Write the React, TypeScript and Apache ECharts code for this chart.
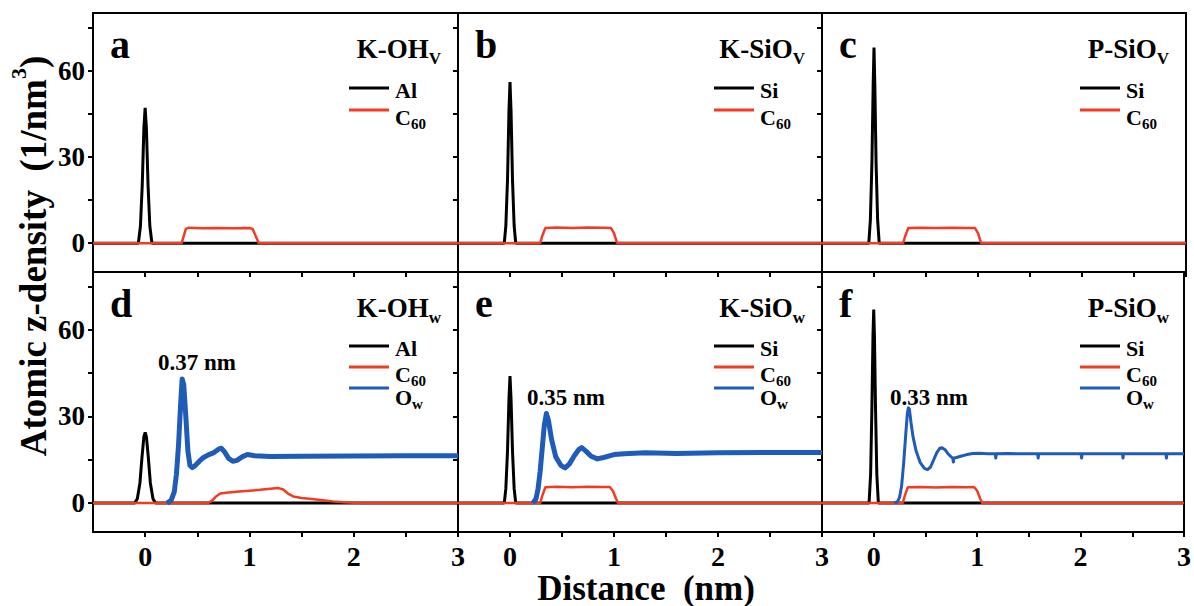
import React, { useEffect, useRef } from 'react';
import * as echarts from 'echarts';

// ---------- axis ticks / labels ----------
const xTickValues = [0, 0.5, 1, 1.5, 2, 2.5, 3];
const xLabelValues = [0, 1, 2, 3];
const yTickValues = [0, 15, 30, 45, 60, 75];
const yLabelValues = [0, 30, 60];

// ---------- panel texts ----------
const panelLetters = ['a', 'b', 'c', 'd', 'e', 'f'];
const panelTitleMain = ['K-OH', 'K-SiO', 'P-SiO', 'K-OH', 'K-SiO', 'P-SiO'];
const panelTitleSub = ['V', 'V', 'V', 'w', 'w', 'w'];
const surfaceNames = ['Al', 'Si', 'Si', 'Al', 'Si', 'Si'];
const peakLabels = ['0.37 nm', '0.35 nm', '0.33 nm'];

// ---------- data: [distance nm, density 1/nm^3] ----------
const aAl = [[-0.5, 0], [-0.065, 0], [-0.045, 6], [-0.028, 20], [-0.012, 40], [0, 47], [0.012, 40], [0.028, 20], [0.045, 6], [0.065, 0], [3, 0]];
const aC60 = [[-0.5, 0], [0.35, 0], [0.37, 2.5], [0.39, 5], [0.42, 5.4], [0.55, 5.2], [0.7, 5.3], [0.85, 5.2], [1.0, 5.3], [1.03, 5.0], [1.06, 2.5], [1.09, 0], [3, 0]];

const bSi = [[-0.5, 0], [-0.055, 0], [-0.04, 6], [-0.024, 22], [-0.01, 46], [0, 56], [0.01, 46], [0.024, 22], [0.04, 6], [0.055, 0], [3, 0]];
const bC60 = [[-0.5, 0], [0.29, 0], [0.31, 2.5], [0.34, 5.3], [0.45, 5.5], [0.6, 5.3], [0.75, 5.5], [0.9, 5.4], [0.97, 5.3], [1.0, 3.5], [1.03, 0], [3, 0]];

const cSi = [[-0.5, 0], [-0.05, 0], [-0.035, 8], [-0.02, 28], [-0.008, 55], [0, 68], [0.008, 55], [0.02, 28], [0.035, 8], [0.05, 0], [3, 0]];
const cC60 = [[-0.5, 0], [0.28, 0], [0.3, 2.5], [0.33, 5.3], [0.45, 5.4], [0.6, 5.3], [0.75, 5.4], [0.9, 5.3], [0.97, 5.3], [1.0, 3.5], [1.03, 0], [3, 0]];

const dAl = [[-0.5, 0], [-0.1, 0], [-0.075, 1.5], [-0.05, 7], [-0.03, 16], [-0.012, 23], [0, 24.5], [0.012, 23], [0.03, 16], [0.05, 7], [0.075, 1.5], [0.1, 0], [3, 0]];
const dC60 = [[-0.5, 0], [0.6, 0], [0.64, 0.8], [0.68, 2.3], [0.72, 3.3], [0.8, 3.7], [0.9, 4.0], [1.0, 4.3], [1.1, 4.6], [1.2, 5.0], [1.28, 5.2], [1.32, 4.8], [1.37, 3.3], [1.42, 2.3], [1.5, 1.8], [1.6, 1.4], [1.7, 1.0], [1.8, 0.6], [1.9, 0.3], [2.0, 0.1], [2.08, 0], [3, 0]];
const dOw = [[0.21, 0], [0.25, 1], [0.28, 4], [0.3, 10], [0.32, 20], [0.34, 34], [0.355, 43], [0.37, 41], [0.39, 30], [0.41, 18], [0.43, 13], [0.45, 12.3], [0.48, 13], [0.52, 14.5], [0.56, 15.8], [0.61, 16.8], [0.66, 17.5], [0.71, 18.8], [0.73, 19], [0.76, 17.8], [0.8, 15.5], [0.84, 14.5], [0.88, 14.8], [0.93, 16], [0.98, 16.8], [1.05, 16.4], [1.2, 16.1], [1.5, 16.2], [2.0, 16.3], [2.5, 16.4], [3, 16.4]];

const eSi = [[-0.5, 0], [-0.055, 0], [-0.04, 5], [-0.024, 18], [-0.01, 36], [0, 44], [0.01, 36], [0.024, 18], [0.04, 5], [0.055, 0], [3, 0]];
const eC60 = [[-0.5, 0], [0.29, 0], [0.31, 2.5], [0.34, 5.5], [0.45, 5.7], [0.6, 5.5], [0.75, 5.7], [0.9, 5.6], [0.96, 5.6], [0.99, 4.2], [1.02, 1.5], [1.04, 0], [3, 0]];
const eOw = [[0.22, 0], [0.25, 1.5], [0.27, 5], [0.29, 11], [0.31, 19], [0.33, 27], [0.35, 31], [0.37, 28.5], [0.4, 22], [0.44, 16], [0.49, 13], [0.53, 12.2], [0.57, 13.5], [0.62, 16.5], [0.66, 18.5], [0.69, 19.2], [0.73, 18], [0.78, 16.2], [0.84, 15.3], [0.9, 15.8], [1.0, 16.8], [1.1, 17.1], [1.3, 17.4], [1.6, 17.2], [2.0, 17.4], [2.5, 17.5], [3, 17.5]];

const fSi = [[-0.5, 0], [-0.045, 0], [-0.03, 10], [-0.018, 32], [-0.007, 58], [0, 67], [0.007, 58], [0.018, 32], [0.03, 10], [0.045, 0], [3, 0]];
const fC60 = [[-0.5, 0], [0.28, 0], [0.3, 2.5], [0.33, 5.5], [0.45, 5.6], [0.6, 5.4], [0.75, 5.6], [0.9, 5.5], [0.97, 5.6], [1.0, 4.3], [1.03, 1.5], [1.05, 0], [3, 0]];
const fOw = [[0.2, 0], [0.23, 0.5], [0.25, 2], [0.27, 6], [0.29, 14], [0.31, 24], [0.325, 31], [0.335, 33], [0.345, 32.5], [0.36, 28], [0.38, 23], [0.41, 18], [0.45, 14], [0.49, 12], [0.52, 11.6], [0.55, 12.5], [0.58, 15], [0.61, 17.5], [0.64, 19], [0.66, 19.2], [0.69, 18.5], [0.72, 17], [0.755, 15.8], [0.765, 15.5], [0.77, 14.2], [0.775, 15.6], [0.8, 15.8], [0.85, 16.3], [0.9, 16.8], [0.96, 17.2], [1.02, 17.3], [1.1, 17.1], [1.175, 17.1], [1.18, 15.6], [1.185, 17.1], [1.3, 17.2], [1.4, 17.1], [1.585, 17.1], [1.59, 15.6], [1.595, 17.1], [1.8, 17.1], [2.005, 17.1], [2.01, 15.6], [2.015, 17.1], [2.2, 17.1], [2.405, 17.1], [2.41, 15.6], [2.415, 17.1], [2.6, 17.1], [2.825, 17.1], [2.83, 15.6], [2.835, 17.1], [3, 17.1]];

const surfaceData = [aAl, bSi, cSi, dAl, eSi, fSi];
const c60Data = [aC60, bC60, cC60, dC60, eC60, fC60];
const owData = [null, null, null, dOw, eOw, fOw];

// ---------- style ----------
const SERIF = '"Liberation Serif", "Times New Roman", serif';
const BLACK = '#000000';
const RED = '#f03c22';
const BLUE = '#1f5bb8';

const colLefts = [93, 458, 822];
const colWidths = [365, 364, 364];
const rowTops = [13, 272];
const rowHeights = [259, 260];

export default function App() {
  const ref = useRef<HTMLDivElement>(null);

  useEffect(() => {
    if (!ref.current) return;
    const chart = echarts.init(ref.current, null, { renderer: 'svg' });

    const rects = [0, 1, 2, 3, 4, 5].map((i) => {
      const c = i % 3;
      const r = Math.floor(i / 3);
      return { left: colLefts[c], top: rowTops[r], width: colWidths[c], height: rowHeights[r], c, r };
    });

    const grid = rects.map((g) => ({
      left: g.left, top: g.top, width: g.width, height: g.height,
      show: true, borderColor: BLACK, borderWidth: 2, backgroundColor: 'transparent',
    }));

    const xAxis = rects.map((g, i) => ({
      gridIndex: i, type: 'value', min: -0.5, max: 3, position: 'bottom',
      axisLine: { show: true, onZero: false, lineStyle: { color: BLACK, width: 2 } },
      axisTick: { show: true, inside: false, length: 5, customValues: xTickValues, lineStyle: { color: BLACK, width: 2 } },
      axisLabel: {
        show: g.r === 1, customValues: xLabelValues, margin: 10,
        fontFamily: SERIF, fontWeight: 'bold', fontSize: 28, color: BLACK,
        formatter: (v: number) => String(v),
      },
      splitLine: { show: false },
    }));

    const yAxis = rects.map((g, i) => ({
      gridIndex: i, type: 'value', min: -10, max: 80, position: 'left',
      axisLine: { show: true, onZero: false, lineStyle: { color: BLACK, width: 2 } },
      axisTick: { show: true, inside: false, length: 5, customValues: yTickValues, lineStyle: { color: BLACK, width: 2 } },
      axisLabel: {
        show: g.c === 0, customValues: yLabelValues, margin: 8,
        fontFamily: SERIF, fontWeight: 'bold', fontSize: 27, color: BLACK,
      },
      splitLine: { show: false },
    }));

    const series: any[] = [];
    rects.forEach((g, i) => {
      series.push({
        type: 'line', name: surfaceNames[i], xAxisIndex: i, yAxisIndex: i,
        data: surfaceData[i], symbol: 'none', lineStyle: { color: BLACK, width: 3 }, itemStyle: { color: BLACK },
        silent: true,
      });
      series.push({
        type: 'line', name: 'C60', xAxisIndex: i, yAxisIndex: i,
        data: c60Data[i], symbol: 'none', lineStyle: { color: RED, width: 2.5 }, itemStyle: { color: RED },
        silent: true,
      });
      if (owData[i]) {
        series.push({
          type: 'line', name: 'Ow', xAxisIndex: i, yAxisIndex: i,
          data: owData[i], symbol: 'none',
          lineStyle: { color: BLUE, width: i === 5 ? 3 : 5, join: 'round' }, itemStyle: { color: BLUE },
          silent: true,
        });
      }
    });

    const richBase = {
      m: { fontFamily: SERIF, fontWeight: 'bold', fontSize: 22, lineHeight: 20, verticalAlign: 'top', fill: BLACK, color: BLACK },
      s: { fontFamily: SERIF, fontWeight: 'bold', fontSize: 15, lineHeight: 12, padding: [10, 0, 0, 0], verticalAlign: 'top', fill: BLACK, color: BLACK },
    };
    const richTitle = {
      m: { fontFamily: SERIF, fontWeight: 'bold', fontSize: 27, lineHeight: 27, verticalAlign: 'top', fill: BLACK, color: BLACK },
      s: { fontFamily: SERIF, fontWeight: 'bold', fontSize: 17, lineHeight: 16, padding: [14, 0, 0, 0], verticalAlign: 'top', fill: BLACK, color: BLACK },
    };

    const txt = (x: number, y: number, text: string, opts: any = {}) => ({
      type: 'text', x, y, silent: true,
      style: {
        text, fill: BLACK,
        font: opts.font || `bold 22px ${SERIF}`,
        textAlign: opts.align || 'left', align: opts.align || 'left',
        textVerticalAlign: 'middle', verticalAlign: 'middle',
        rich: opts.rich,
      },
      rotation: opts.rotation || 0,
    });

    const legendLabel = (name: string) => {
      if (name === 'C60') return '{m|C}{s|60}';
      if (name === 'Ow') return '{m|O}{s|w}';
      return '{m|' + name + '}';
    };

    const graphic: any[] = [];
    rects.forEach((g, i) => {
      const right = g.left + g.width;
      graphic.push(txt(g.left + 17, g.top + 31, panelLetters[i], { font: `bold 40px ${SERIF}` }));
      graphic.push(txt(right - 17, g.top + 36, `{m|${panelTitleMain[i]}}{s|${panelTitleSub[i]}}`, { align: 'right', rich: richTitle }));
      const names = owData[i] ? [surfaceNames[i], 'C60', 'Ow'] : [surfaceNames[i], 'C60'];
      const colors = [BLACK, RED, BLUE];
      const rowY = g.r === 0 ? [75, 97] : [74, 95, 116];
      const textOff = [1.5, 6, 8.5];
      const lx = g.left + (g.c === 2 ? 258 : 256);
      names.forEach((n, k) => {
        const y = g.top + rowY[k];
        graphic.push({ type: 'line', silent: true, shape: { x1: lx, y1: y, x2: lx + 40, y2: y }, style: { stroke: colors[k], lineWidth: 3 } });
        graphic.push(txt(lx + 46, y + textOff[k], legendLabel(n), { rich: richBase }));
      });
    });
    const peakPos = [[197, 362], [566, 397], [929, 397]];
    peakLabels.forEach((p, k) => {
      graphic.push(txt(peakPos[k][0], peakPos[k][1], p, { align: 'center', font: `bold 23px ${SERIF}` }));
    });
    graphic.push(txt(646, 588, 'Distance  (nm)', { align: 'center', font: `bold 35px ${SERIF}` }));
    graphic.push({
      type: 'text', x: 25, y: 256, rotation: Math.PI / 2, silent: true,
      style: {
        text: '{m|Atomic z-density  (1/nm}{p|3}{m|)}',
        textAlign: 'center', align: 'center', textVerticalAlign: 'middle', verticalAlign: 'middle',
        fill: BLACK,
        rich: {
          m: { fontFamily: SERIF, fontWeight: 'bold', fontSize: 37, lineHeight: 35, padding: [7, 0, 0, 0], verticalAlign: 'top', fill: BLACK, color: BLACK },
          p: { fontFamily: SERIF, fontWeight: 'bold', fontSize: 22, lineHeight: 22, verticalAlign: 'top', fill: BLACK, color: BLACK },
        },
      },
    });

    chart.setOption({
      animation: false,
      backgroundColor: '#ffffff',
      grid, xAxis, yAxis, series, graphic,
    });

    return () => chart.dispose();
  }, []);

  return (
    <div
      ref={ref}
      style={{ position: 'fixed', left: 0, top: 0, width: 1194, height: 606 }}
    />
  );
}
